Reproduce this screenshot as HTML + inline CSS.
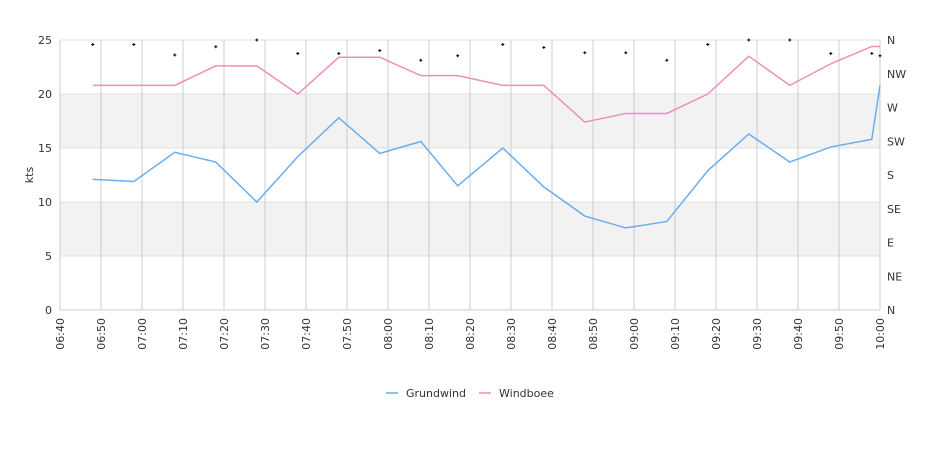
<!DOCTYPE html>
<html><head><meta charset="utf-8"><style>
body{margin:0;background:#fff;font-family:"Liberation Sans","DejaVu Sans",sans-serif;}
svg text{font-family:"DejaVu Sans","Liberation Sans",sans-serif;font-size:11px;fill:#333;}
</style></head><body>
<svg id="chart" width="940" height="450" xmlns="http://www.w3.org/2000/svg"></svg>
<script>
const times=["06:48","06:58","07:08","07:18","07:28","07:38","07:48","07:58","08:08","08:17","08:28","08:38","08:48","08:58","09:08","09:18","09:28","09:38","09:48","09:58","10:00"];
const grundwind=[12.1,11.9,14.6,13.7,10.0,14.2,17.8,14.5,15.6,11.5,15.0,11.4,8.7,7.6,8.2,12.9,16.3,13.7,15.1,15.8,20.8];
const windboee=[20.8,20.8,20.8,22.6,22.6,20.0,23.4,23.4,21.7,21.7,20.8,20.8,17.4,18.2,18.2,20.0,23.5,20.8,22.8,24.4,24.4];
const direction=[354,354,340,351,360,342,342,346,333,339,354,350,343,343,333,354,360,360,342,342,339];
const xTicks=["06:40","06:50","07:00","07:10","07:20","07:30","07:40","07:50","08:00","08:10","08:20","08:30","08:40","08:50","09:00","09:10","09:20","09:30","09:40","09:50","10:00"];
const yTicks=[0,5,10,15,20,25];
const dirLabels=["N","NE","E","SE","S","SW","W","NW","N"];

const L=60,R=880,T=40,B=310;
const svg=document.getElementById('chart');
const NS="http://www.w3.org/2000/svg";
function mins(t){const p=t.split(':');return (+p[0])*60+(+p[1]);}
const t0=mins("06:40"),t1=mins("10:00");
const x=t=>L+(mins(t)-t0)/(t1-t0)*(R-L);
const y=v=>B-v/25*(B-T);
const yd=d=>B-d/360*(B-T);
function el(tag,attrs,parent){const e=document.createElementNS(NS,tag);for(const k in attrs)e.setAttribute(k,attrs[k]);(parent||svg).appendChild(e);return e;}

// bands
[[5,10],[15,20]].forEach((b,i)=>{
 const r=el('rect',{x:L,y:y(b[1]),width:R-L,height:y(b[0])-y(b[1]),fill:'#f2f2f2'});
 
 
});
// horizontal grid
yTicks.forEach(v=>{
 const g=el('line',{x1:L,x2:R,y1:y(v),y2:y(v),stroke:'#e0e0e0','stroke-width':1});
 
 
 const t=el('text',{x:L-8,y:y(v)+4,'text-anchor':'end'});t.textContent=v;
 
 
});
// vertical grid + x labels
xTicks.forEach(s=>{
 const g=el('line',{x1:x(s),x2:x(s),y1:T,y2:B,stroke:'#cccccc','stroke-width':1});
 
 
 const t=el('text',{x:0,y:0,'text-anchor':'end',transform:`translate(${x(s)+4},${B+8}) rotate(-90)`});t.textContent=s;
 
 
});
el('line',{x1:L,x2:L,y1:T,y2:B,stroke:'#ccc'});
el('line',{x1:L,x2:R,y1:B,y2:B,stroke:'#ccc'});
// right axis labels
dirLabels.forEach((d,i)=>{
 const t=el('text',{x:R+7,y:yd(i*45)+4});t.textContent=d;
 
 
});
// y title
const yt=el('text',{x:0,y:0,'text-anchor':'middle',transform:`translate(33,${(T+B)/2}) rotate(-90)`,'font-size':'12px'});
yt.textContent='kts';



function series(vals,color,name){
 const p=el('polyline',{points:vals.map((v,i)=>x(times[i])+','+y(v)).join(' '),fill:'none',stroke:color,'stroke-width':1.5});
 
 
}
series(grundwind,'#6aaef0','grundwind-line');
series(windboee,'#f08cc0','windboee-line');
// direction markers
direction.forEach((d,i)=>{
 const cx=x(times[i]),cy=yd(d);
 const g=el('path',{d:`M${cx-1.5},${cy}h3M${cx},${cy-1.5}v3`,stroke:'#000','stroke-width':1});
 
 
});
// legend
function leg(lx,color,label,name){
 const g=el('g',{});
 
 
 el('line',{x1:lx,x2:lx+12,y1:393,y2:393,stroke:color,'stroke-width':1.5},g);
 const t=el('text',{x:lx+20,y:397},g);t.textContent=label;
}
leg(386,'#6aaef0','Grundwind','legend-grundwind');
leg(479,'#f08cc0','Windboee','legend-windboee');
</script>
</body></html>
